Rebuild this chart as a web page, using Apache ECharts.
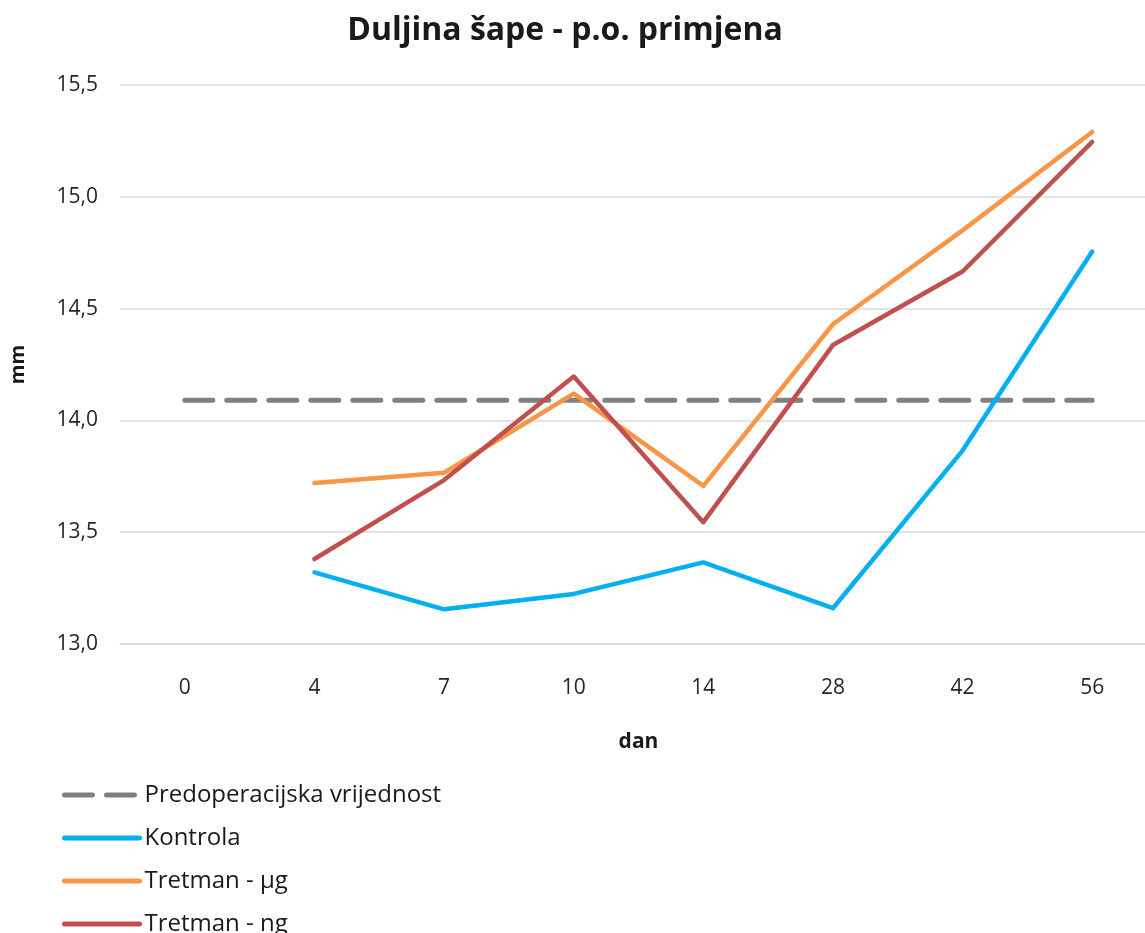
<!DOCTYPE html>
<html>
<head>
<meta charset="utf-8">
<script src="https://cdn.jsdelivr.net/npm/echarts@6/dist/echarts.min.js"></script>
<style>
  html, body { margin: 0; padding: 0; background: #fff; overflow: hidden; }
  #chart { width: 1160px; height: 933px; }
</style>
</head>
<body>
<div id="chart"></div>
<script>
const days = ['0', '4', '7', '10', '14', '28', '42', '56']
const baseline = [14.09, 14.09, 14.09, 14.09, 14.09, 14.09, 14.09, 14.09]
const kontrola = [null, 13.32, 13.155, 13.224, 13.365, 13.16, 13.865, 14.755]
const tretmanUg = [null, 13.72, 13.766, 14.12, 13.707, 14.43, 14.85, 15.29]
const tretmanNg = [null, 13.38, 13.733, 14.196, 13.545, 14.337, 14.666, 15.246]

const font = 'Open Sans'
const chart = echarts.init(document.getElementById('chart'))

function lineSeries(name, data, color, dashed) {
  return {
    name: name,
    type: 'line',
    data: data,
    symbol: 'none',
    connectNulls: false,
    animation: false,
    lineStyle: {
      color: color,
      width: dashed ? 5 : 4.5,
      type: dashed ? [28, 14] : 'solid',
      cap: 'round',
      join: 'round'
    },
    itemStyle: { color: color }
  }
}

chart.setOption({
  title: {
    text: 'Duljina šape - p.o. primjena',
    left: 560,
    textAlign: 'center',
    top: 10,
    textStyle: { fontFamily: font, fontSize: 32, fontWeight: 'bold', color: '#1a1a1a' }
  },
  grid: { left: 120, top: 85, width: 1037, bottom: 289 },
  xAxis: {
    type: 'category',
    data: days,
    boundaryGap: true,
    name: 'dan',
    nameLocation: 'middle',
    nameGap: 88,
    nameTextStyle: { fontFamily: font, fontSize: 21, fontWeight: 'bold', color: '#1a1a1a' },
    axisLine: { lineStyle: { color: '#d9d9d9', width: 1.5 } },
    axisTick: { show: false },
    axisLabel: { fontFamily: font, fontSize: 21, color: '#262626', margin: 34 }
  },
  yAxis: {
    type: 'value',
    min: 13,
    max: 15.5,
    interval: 0.5,
    name: 'mm',
    nameLocation: 'middle',
    nameGap: 92,
    nameRotate: 90,
    nameTextStyle: { fontFamily: font, fontSize: 20, fontWeight: 'bold', color: '#1a1a1a' },
    axisLine: { show: false },
    axisTick: { show: false },
    splitLine: { lineStyle: { color: '#d9d9d9', width: 1.5 } },
    axisLabel: {
      fontFamily: font,
      fontSize: 21,
      color: '#262626',
      margin: 22,
      formatter: v => v.toFixed(1).replace('.', ',')
    }
  },
  legend: {
    orient: 'vertical',
    left: 62,
    top: 780,
    height: 200,
    padding: 0,
    itemGap: 13,
    itemWidth: 75,
    itemHeight: 14,
    itemStyle: { opacity: 0 },
    lineStyle: { width: 5, cap: 'round' },
    textStyle: { fontFamily: font, fontSize: 24, lineHeight: 30, color: '#1a1a1a' },
    data: ['Predoperacijska vrijednost', 'Kontrola', 'Tretman - µg', 'Tretman - ng']
  },
  series: [
    lineSeries('Predoperacijska vrijednost', baseline, '#808080', true),
    lineSeries('Kontrola', kontrola, '#00b0f0', false),
    lineSeries('Tretman - µg', tretmanUg, '#f79646', false),
    lineSeries('Tretman - ng', tretmanNg, '#c0504d', false)
  ]
})
</script>
</body>
</html>
